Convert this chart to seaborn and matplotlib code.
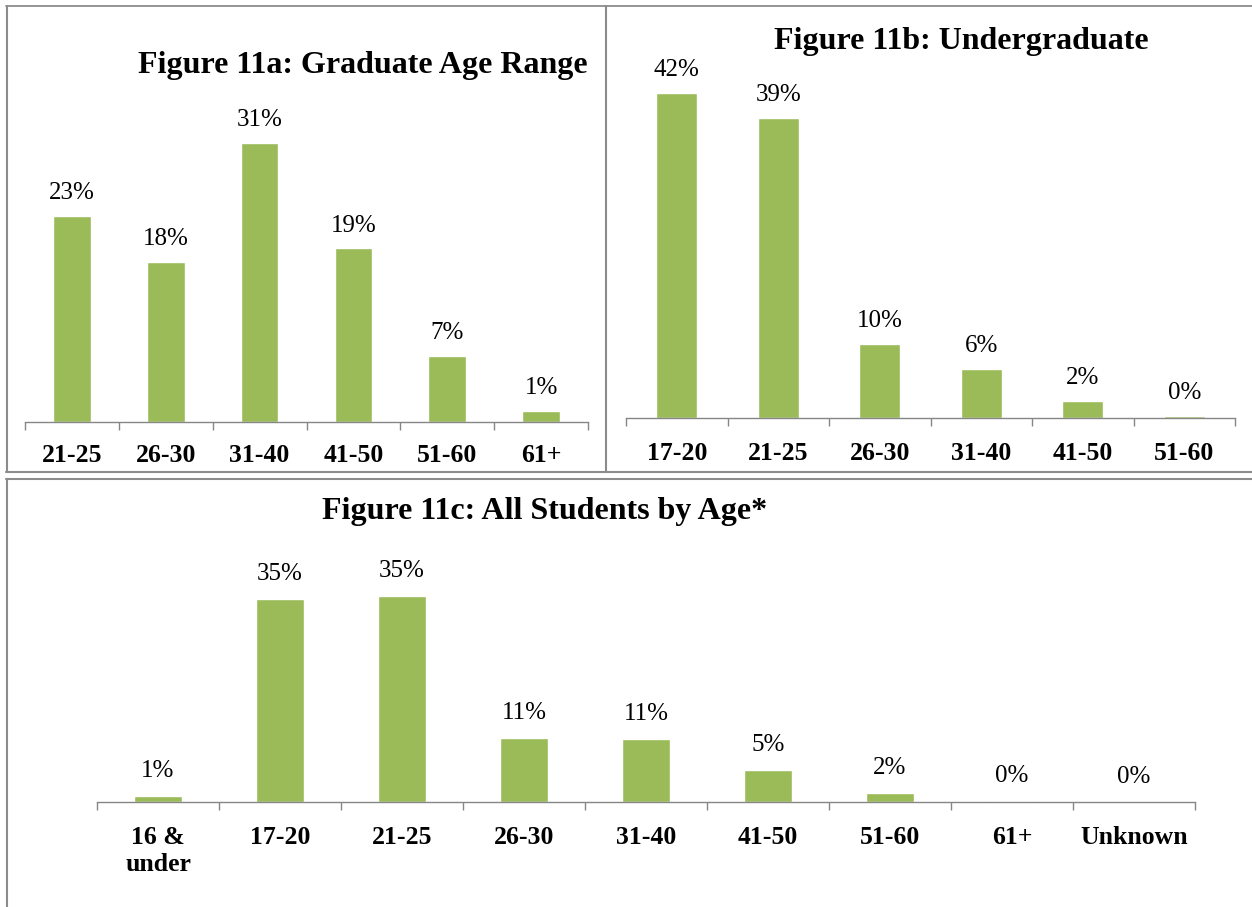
import numpy as np
import pandas as pd
import matplotlib
matplotlib.use("Agg")
import matplotlib.pyplot as plt
from matplotlib.lines import Line2D
import seaborn as sns

# data (percent of students)
grad_ages = ["21-25", "26-30", "31-40", "41-50", "51-60", "61+"]
grad_pct = [23.0, 17.9, 31.2, 19.4, 7.4, 1.2]

under_ages = ["17-20", "21-25", "26-30", "31-40", "41-50", "51-60"]
under_pct = [42.0, 38.7, 9.6, 6.3, 2.2, 0.3]

all_ages = ["16 &\nunder", "17-20", "21-25", "26-30", "31-40", "41-50", "51-60", "61+", "Unknown"]
all_pct = [0.96, 34.8, 35.3, 11.0, 10.7, 5.4, 1.6, 0.2, 0.0]

title_a = "Figure 11a: Graduate Age Range"
title_b = "Figure 11b: Undergraduate"
title_c = "Figure 11c: All Students by Age*"

W, H = 1252, 907
BAR = "#9BBB59"
AXIS = "#868686"
BORDER = "#8c8c8c"

sns.set_style("white")
plt.rcParams["font.family"] = ["Liberation Serif", "DejaVu Serif"]
plt.rcParams["text.color"] = "black"
plt.rcParams["xtick.labelcolor"] = "black"

fig = plt.figure(figsize=(W / 100, H / 100), dpi=100)


def px_axes(x0, x1, top, base):
    return fig.add_axes([x0 / W, 1 - base / H, (x1 - x0) / W, (base - top) / H])


def draw_panel(ax, cats, vals, ymax, label_off, pad):
    df = pd.DataFrame({"age": cats, "pct": vals})
    sns.barplot(data=df, x="age", y="pct", ax=ax, color=BAR, saturation=1, width=0.4)
    n = len(cats)
    ax.set_xlim(-0.5, n - 0.5)
    ax.set_ylim(0, ymax)
    ax.set_xlabel("")
    ax.set_ylabel("")
    ax.set_yticks([])
    for i, v in enumerate(vals):
        ax.annotate(f"{v:.0f}%", (i, v), xytext=(0, label_off), textcoords="offset points",
                    ha="center", va="center", fontsize=18, color="black")
    ax.set_xticks(range(n))
    ax.set_xticklabels(cats, fontweight="bold", fontsize=18.5, linespacing=1.25, color="black")
    ax.set_xticks(np.arange(-0.5, n, 1), minor=True)
    ax.tick_params(axis="x", which="major", length=0, pad=pad)
    ax.tick_params(axis="x", which="minor", length=6, width=1, color=AXIS, direction="out", bottom=True)
    for s in ["top", "left", "right"]:
        ax.spines[s].set_visible(False)
    ax.spines["bottom"].set_color(AXIS)
    ax.spines["bottom"].set_linewidth(1)
    ax.patch.set_alpha(0)


ax_a = px_axes(25, 588, 100, 422)
draw_panel(ax_a, grad_ages, grad_pct, 36.0, 16.5, 16)

ax_b = px_axes(626, 1235, 60, 418)
draw_panel(ax_b, under_ages, under_pct, 46.2, 16.5, 17.5)

ax_c = px_axes(97, 1195, 560, 802)
draw_panel(ax_c, all_ages, all_pct, 41.4, 18, 17)

fig.text(363 / W, 1 - 66 / H, title_a, ha="center", va="center", fontsize=23, fontweight="bold")
fig.text(961 / W, 1 - 42 / H, title_b, ha="center", va="center", fontsize=23, fontweight="bold")
fig.text(545 / W, 1 - 512 / H, title_c, ha="center", va="center", fontsize=23, fontweight="bold")


# table-style cell borders
def hline(y, x0, x1, lw=1.5):
    fig.add_artist(Line2D([x0 / W, x1 / W], [1 - y / H, 1 - y / H], transform=fig.transFigure,
                          color=BORDER, lw=lw))


def vline(x, y0, y1, lw=1.5):
    fig.add_artist(Line2D([x / W, x / W], [1 - y0 / H, 1 - y1 / H], transform=fig.transFigure,
                          color=BORDER, lw=lw))


hline(6, 6, W, lw=1.3)
hline(472, 6, W)
hline(479, 6, W)
vline(7, 6, 472)
vline(7, 479, H)
vline(606, 6, 472)

fig.savefig("out.png", dpi=100)
